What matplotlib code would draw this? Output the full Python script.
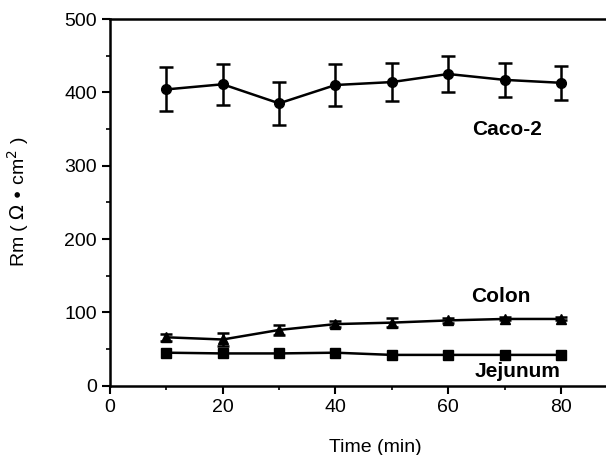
import matplotlib
matplotlib.use('Agg')
import matplotlib.pyplot as plt
from matplotlib.ticker import MultipleLocator

plt.rcParams['font.family'] = ['Liberation Sans', 'DejaVu Sans']

time = [10, 20, 30, 40, 50, 60, 70, 80]

caco2 = [404, 411, 385, 410, 414, 425, 417, 413]
caco2_err = [30, 28, 29, 28, 26, 24, 23, 23]

colon = [66, 63, 76, 84, 86, 89, 91, 91]
colon_err = [5, 9, 7, 4, 6, 3, 2, 2]

jejunum = [45, 44, 44, 45, 42, 42, 42, 42]
jejunum_err = [2, 2, 2, 2, 2, 2, 2, 2]

fig = plt.figure(figsize=(6.06, 4.55), dpi=100)
ax = fig.add_axes([110 / 606, 1 - 385.7 / 455, 1 - 110 / 606, (385.7 - 19) / 455])

ax.errorbar(time, caco2, yerr=caco2_err, fmt='o-', color='black', lw=1.8,
            ms=7, capsize=5, elinewidth=1.8, capthick=1.8)
ax.errorbar(time, colon, yerr=colon_err, fmt='^-', color='black', lw=1.8,
            ms=6.5, capsize=4, elinewidth=1.8, capthick=1.8)
ax.errorbar(time, jejunum, yerr=jejunum_err, fmt='s-', color='black', lw=1.8,
            ms=6.5, capsize=3, elinewidth=1.5, capthick=1.5)

ax.text(70.5, 349, 'Caco-2', fontsize=15, fontweight='bold', ha='center', va='center')
ax.text(69.3, 121, 'Colon', fontsize=15, fontweight='bold', ha='center', va='center')
ax.text(72.3, 19, 'Jejunum', fontsize=15, fontweight='bold', ha='center', va='center')

ax.set_xlim(0, 88)
ax.set_ylim(0, 500)
ax.xaxis.set_major_locator(MultipleLocator(20))
ax.xaxis.set_minor_locator(MultipleLocator(10))
ax.yaxis.set_major_locator(MultipleLocator(100))
ax.yaxis.set_minor_locator(MultipleLocator(50))
ax.spines['right'].set_visible(False)
for s in ['left', 'bottom', 'top']:
    ax.spines[s].set_linewidth(1.8)
ax.tick_params(which='major', direction='out', length=6, width=1.5, labelsize=14)
ax.tick_params(which='minor', direction='out', length=3, width=1.2)
ax.tick_params(top=False, right=False)

fig.text(375 / 606, 1 - 447 / 455, 'Time (min)', fontsize=14, ha='center', va='center')
fig.text(18 / 606, 1 - 202 / 455, 'Rm ( $\\Omega \\bullet$cm$^2$ )', fontsize=14,
         rotation=90, ha='center', va='center')

fig.savefig('out.png', dpi=100)
